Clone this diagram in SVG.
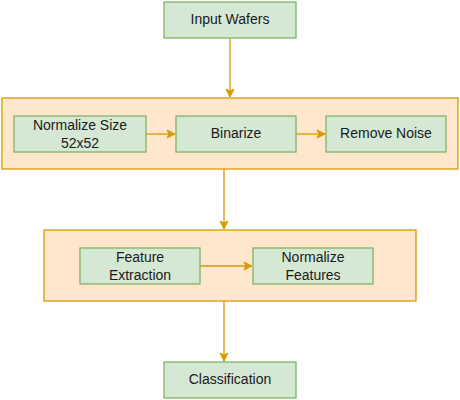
<svg xmlns="http://www.w3.org/2000/svg" width="460" height="400" viewBox="0 0 460 400">
<style>
.g{fill:#d5e8d4;stroke:#82b366;stroke-width:1.3}
.o{fill:#ffe6cc;stroke:#d79b00;stroke-width:1.3}
.t{font-family:"Liberation Sans",Arial,sans-serif;font-size:14px;fill:#1a1a1a;text-anchor:middle}
.c{stroke:#d79b00;stroke-width:1.3;fill:none;marker-end:url(#a)}
</style>
<defs>
<marker id="a" markerUnits="userSpaceOnUse" markerWidth="12" markerHeight="12" viewBox="0 0 12 12" refX="9" refY="6" orient="auto">
<path d="M1,2 L9,6 L1,10 L3,6 Z" fill="#d79b00" stroke="#d79b00" stroke-width="1"/>
</marker>
</defs>
<rect id="group1" class="o" x="2" y="98" width="456" height="71"/>
<rect id="group2" class="o" x="44" y="230" width="372" height="71"/>
<g id="connectors">
<path class="c" d="M230,38 V97"/>
<path class="c" d="M146,134 H175"/>
<path class="c" d="M296,134 H325"/>
<path class="c" d="M224,169 V229"/>
<path class="c" d="M200,266 H252"/>
<path class="c" d="M224,301 V361"/>
</g>
<g id="input"><rect class="g" x="164" y="2" width="132" height="36"/><text class="t" x="230" y="24">Input Wafers</text></g>
<g id="normsize"><rect class="g" x="14" y="116" width="132" height="36"/><text class="t" x="80" y="129.5">Normalize Size</text><text class="t" x="80" y="147.5">52x52</text></g>
<g id="binarize"><rect class="g" x="176" y="116" width="120" height="36"/><text class="t" x="236" y="138">Binarize</text></g>
<g id="noise"><rect class="g" x="326" y="116" width="120" height="36"/><text class="t" x="386" y="138">Remove Noise</text></g>
<g id="feature"><rect class="g" x="80" y="248" width="120" height="36"/><text class="t" x="140" y="262">Feature</text><text class="t" x="140" y="280">Extraction</text></g>
<g id="normfeat"><rect class="g" x="253" y="248" width="120" height="36"/><text class="t" x="313" y="262">Normalize</text><text class="t" x="313" y="280">Features</text></g>
<g id="classification"><rect class="g" x="164" y="362" width="132" height="36"/><text class="t" x="230" y="384">Classification</text></g>
</svg>
